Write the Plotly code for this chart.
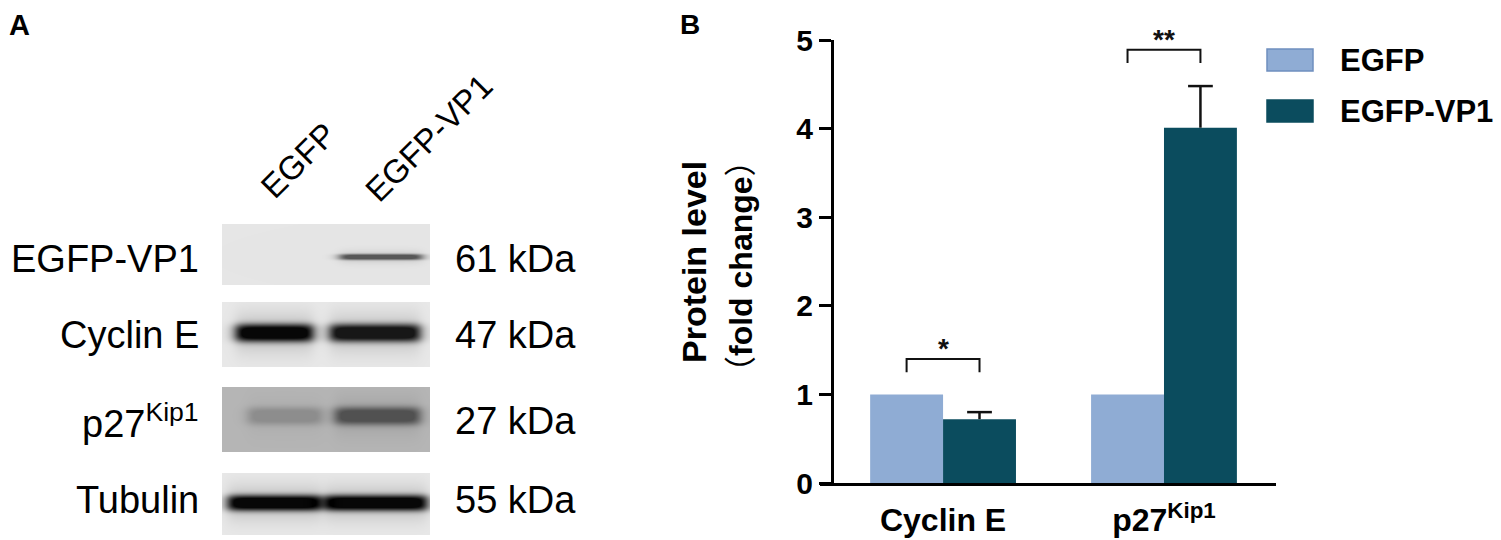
import numpy as np
import plotly.graph_objects as go

# ---------------- data ----------------
# Panel A (western blot)
blot_targets = ["EGFP-VP1", "Cyclin E", "p27<sup>Kip1</sup>", "Tubulin"]
blot_mw = ["61 kDa", "47 kDa", "27 kDa", "55 kDa"]
lane_names = ["EGFP", "EGFP-VP1"]
band_egfp = [0.00, 0.97, 0.22, 0.97]     # band darkness, EGFP lane
band_vp1 = [0.62, 0.90, 0.55, 0.97]      # band darkness, EGFP-VP1 lane
blot_bg = [0.10, 0.09, 0.29, 0.09]       # membrane background darkness

# Panel B (bar chart)
categories = ["Cyclin E", "p27<sup>Kip1</sup>"]
egfp_mean = [1.0, 1.0]
vp1_mean = [0.72, 4.01]
vp1_sem = [0.08, 0.47]
sig_marks = ["*", "**"]
sig_top = [1.40, 4.89]
y_ticks = [0, 1, 2, 3, 4, 5]

# ---------------- styling / geometry ----------------
OFF = 8                      # page body margin of the browser
W, H = 1501 - OFF, 540 - OFF
FONT = "Liberation Sans, Arial, Noto Sans CJK SC, sans-serif"
CJK = "Noto Sans CJK SC"
C_EGFP = "#8FACD4"
C_VP1 = "#0B4C5E"

def px(x):
    return (x - OFF) / W

def py(y):
    return 1 - (y - OFF) / H

row_top = [224, 302, 387, 473]
row_bot = [285, 367, 452, 535]
band_y = [257, 333, 416, 503]
band_half = [3.0, 9.0, 9.0, 8.0]
lane1_x = [(240, 312), (236, 313), (248, 322), (228, 321)]
lane2_x = [(340, 422), (330, 420), (335, 420), (325, 427)]
BX0, BX1 = 222, 430

fig = go.Figure()

# ---- blot heatmaps ----
xs = np.arange(BX0, BX1) + 0.5
def sig(v):
    return 1.0 / (1.0 + np.exp(-v))

for i in range(4):
    ys = np.arange(row_top[i], row_bot[i]) + 0.5
    X, Y = np.meshgrid(xs, ys)
    z = np.full(X.shape, blot_bg[i], dtype=float)
    for inten, (a, b) in ((band_egfp[i], lane1_x[i]), (band_vp1[i], lane2_x[i])):
        if inten <= 0:
            continue
        hprof = sig((X - a) / 3.5) * sig((b - X) / 3.5)
        d = np.abs(Y - band_y[i]) / band_half[i]
        vprof = np.exp(-d ** 3) + 0.18 * np.exp(-(d / 2.2) ** 2)
        z = z + (1 - blot_bg[i]) * inten * np.clip(hprof * vprof, 0, 1)
    z = np.clip(z, 0, 1)
    fig.add_trace(go.Heatmap(
        x=xs, y=ys, z=z, zmin=0, zmax=1,
        colorscale=[[0, "#ffffff"], [1, "#000000"]],
        showscale=False, hoverinfo="skip",
        xaxis="x2", yaxis="y2",
    ))

# ---- bars ----
xpos = list(range(len(categories)))
fig.add_trace(go.Bar(x=xpos, y=egfp_mean, name="EGFP",
                     marker=dict(color=C_EGFP, line=dict(width=0)),
                     showlegend=False, hoverinfo="skip"))
fig.add_trace(go.Bar(x=xpos, y=vp1_mean, name="EGFP-VP1",
                     marker=dict(color=C_VP1, line=dict(width=0)),
                     showlegend=False, hoverinfo="skip"))

BARGAP = 0.34
half_off = (1 - BARGAP) / 4.0
CAP = 0.056

# error bars (upper only) for EGFP-VP1
ex, ey = [], []
for c, m, s in zip(xpos, vp1_mean, vp1_sem):
    xc = c + half_off
    ex += [xc, xc, None, xc - CAP, xc + CAP, None]
    ey += [m, m + s, None, m + s, m + s, None]
fig.add_trace(go.Scatter(x=ex, y=ey, mode="lines",
                         line=dict(color="#111111", width=2.5),
                         showlegend=False, hoverinfo="skip"))

# significance brackets
for c, top in zip(xpos, sig_top):
    fig.add_trace(go.Scatter(
        x=[c - half_off, c - half_off, c + half_off, c + half_off],
        y=[top - 0.15, top, top, top - 0.15],
        mode="lines", line=dict(color="#111111", width=2),
        showlegend=False, hoverinfo="skip"))

annotations = []
for c, top, mark in zip(xpos, sig_top, sig_marks):
    annotations.append(dict(x=c, y=top, xref="x", yref="y", text=mark,
                            showarrow=False, yanchor="bottom", yshift=-7,
                            font=dict(family=FONT, size=28, color="#111111", weight="bold")))

# panel letters
annotations.append(dict(x=px(8), y=py(8), xref="paper", yref="paper", text="<b>A</b>",
                        showarrow=False, xanchor="left", yanchor="top", borderpad=0,
                        font=dict(family=FONT, size=29, color="black")))
annotations.append(dict(x=px(679), y=py(8), xref="paper", yref="paper", text="<b>B</b>",
                        showarrow=False, xanchor="left", yanchor="top", borderpad=0,
                        font=dict(family=FONT, size=28, color="black")))

# blot labels
row_text_y = [259, 335, 421, 500]
for i in range(4):
    annotations.append(dict(x=px(201), y=py(row_text_y[i]), xref="paper", yref="paper",
                            text=blot_targets[i], showarrow=False,
                            xanchor="right", yanchor="middle",
                            font=dict(family=FONT, size=38, color="black")))
    annotations.append(dict(x=px(453), y=py(row_text_y[i]), xref="paper", yref="paper",
                            text=blot_mw[i], showarrow=False,
                            xanchor="left", yanchor="middle",
                            font=dict(family=FONT, size=38, color="black")))
lane_center = [(298, 160), (428, 138)]
for name, (cx, cy) in zip(lane_names, lane_center):
    annotations.append(dict(x=px(cx), y=py(cy), xref="paper", yref="paper", text=name,
                            showarrow=False, textangle=-45,
                            xanchor="center", yanchor="middle",
                            font=dict(family=FONT, size=33, color="black")))

# y-axis title (two lines)
annotations.append(dict(x=px(694), y=py(262), xref="paper", yref="paper",
                        text="<b>Protein level</b>", showarrow=False, textangle=-90,
                        font=dict(family=FONT, size=34, color="black")))
fold_txt = ("<span style=\"font-family:%s\">（</span><b>fold change</b>"
            "<span style=\"font-family:%s\">）</span>") % (CJK, CJK)
annotations.append(dict(x=px(738), y=py(266), xref="paper", yref="paper",
                        text=fold_txt, showarrow=False, textangle=-90,
                        font=dict(family=FONT, size=32, color="black")))

# legend (manual)
shapes = []
leg_items = [("EGFP", C_EGFP, "#6F8FBE", 60), ("EGFP-VP1", C_VP1, "#0B4C5E", 111)]
for label, col, edge, yc in leg_items:
    shapes.append(dict(type="rect", xref="paper", yref="paper",
                       x0=px(1267), x1=px(1313), y0=py(yc + 11), y1=py(yc - 11),
                       fillcolor=col, line=dict(color=edge, width=1.5)))
    annotations.append(dict(x=px(1338), y=py(yc), xref="paper", yref="paper",
                            text="<b>" + label + "</b>", showarrow=False,
                            xanchor="left", yanchor="middle",
                            font=dict(family=FONT, size=31, color="black")))

fig.update_layout(
    width=W, height=H,
    margin=dict(l=0, r=0, t=0, b=0, pad=0, autoexpand=False),
    paper_bgcolor="white", plot_bgcolor="rgba(0,0,0,0)",
    barmode="group", bargap=BARGAP, bargroupgap=0,
    showlegend=False,
    xaxis=dict(domain=[px(820), px(1276)], range=[-0.557, 1.507],
               tickvals=xpos, ticktext=["<b>" + c + "</b>" for c in categories],
               tickfont=dict(family=FONT, size=32, color="black"),
               ticks="", ticklabelstandoff=7,
               showline=True, linecolor="black", linewidth=3,
               showgrid=False, zeroline=False, anchor="y", fixedrange=True),
    yaxis=dict(domain=[py(483), py(40)], range=[0, 5],
               tickvals=y_ticks, ticktext=["<b>%d</b>" % t for t in y_ticks],
               tickfont=dict(family=FONT, size=30, color="black"),
               ticks="outside", ticklen=12, tickwidth=3, tickcolor="black",
               showline=True, linecolor="black", linewidth=3,
               showgrid=False, zeroline=False,
               anchor="free", position=px(832), fixedrange=True),
    xaxis2=dict(domain=[px(BX0), px(BX1)], range=[BX0, BX1], visible=False,
                anchor="y2", fixedrange=True),
    yaxis2=dict(domain=[py(row_bot[-1]), py(row_top[0])], range=[row_bot[-1], row_top[0]],
                visible=False, anchor="x2", fixedrange=True),
    annotations=annotations,
    shapes=shapes,
)

fig.write_html("out.html")
